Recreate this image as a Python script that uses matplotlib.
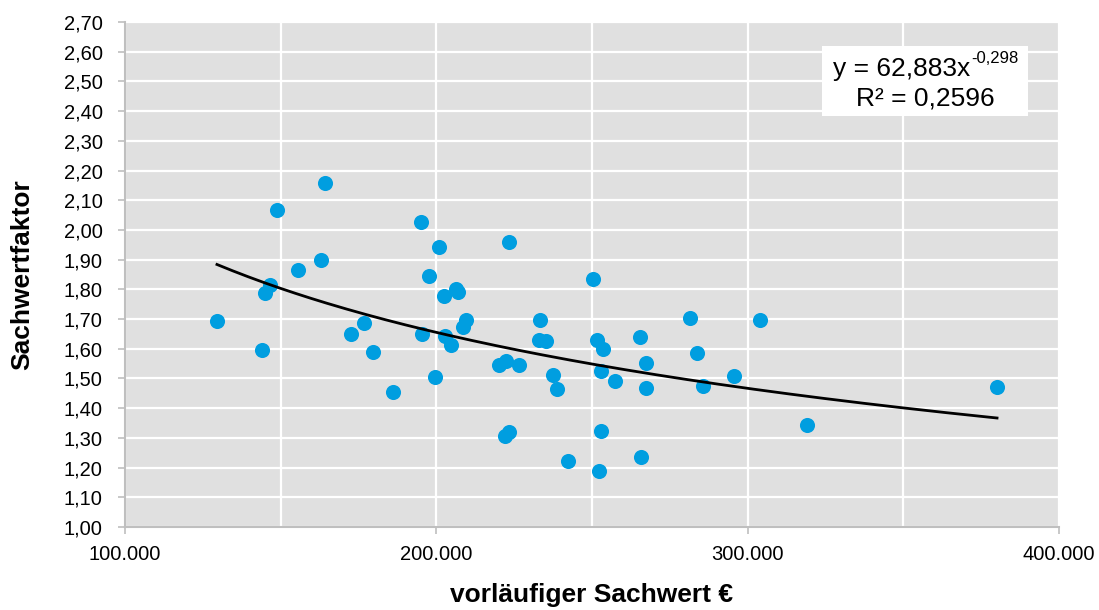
import numpy as np
import matplotlib.pyplot as plt
from matplotlib.ticker import MultipleLocator, FuncFormatter
from matplotlib.patches import Rectangle

plt.rcParams['font.family'] = ['Liberation Sans', 'DejaVu Sans']

# vorläufiger Sachwert (EUR) und zugehöriger Sachwertfaktor
sachwert = [129550, 144000, 145000, 146600, 148800, 155600, 163000, 164200,
            172600, 176800, 179700, 186100, 195100, 195400, 197600, 199600,
            200900, 202500, 202800, 204700, 206300, 207000, 208600, 209500,
            220100, 222400, 222000, 223300, 223300, 226600, 233300, 233000,
            235200, 237500, 238800, 242300, 250300, 251600, 252900, 253500,
            252300, 252900, 257400, 265400, 265700, 267300, 267300, 281400,
            283700, 285600, 295600, 303900, 319000, 380100]
faktor = [1.694, 1.596, 1.788, 1.815, 2.067, 1.865, 1.900, 2.158,
          1.650, 1.687, 1.590, 1.455, 2.027, 1.650, 1.845, 1.505,
          1.943, 1.778, 1.643, 1.613, 1.800, 1.790, 1.673, 1.697,
          1.545, 1.559, 1.306, 1.320, 1.960, 1.545, 1.697, 1.630,
          1.626, 1.512, 1.465, 1.222, 1.835, 1.630, 1.525, 1.600,
          1.189, 1.323, 1.490, 1.640, 1.236, 1.552, 1.468, 1.704,
          1.586, 1.475, 1.508, 1.697, 1.343, 1.470]

# Potenz-Trendlinie
coef_a = 62.883
coef_b = -0.298

fig = plt.figure(figsize=(10.99, 6.10), dpi=100)
ax = fig.add_axes([0.1137, 0.1361, 0.8499, 0.8278])
ax.set_facecolor('#e0e0e0')

ax.scatter(sachwert, faktor, s=118, color='#009ee0', zorder=3, linewidths=0)

xs = np.linspace(min(sachwert), max(sachwert), 200)
ax.plot(xs, coef_a * xs ** coef_b, color='black', lw=2, zorder=4)

ax.set_xlim(100000, 400000)
ax.set_ylim(1.0, 2.7)
ax.xaxis.set_major_locator(MultipleLocator(100000))
ax.xaxis.set_minor_locator(MultipleLocator(50000))
ax.yaxis.set_major_locator(MultipleLocator(0.1))
ax.xaxis.set_major_formatter(FuncFormatter(lambda v, p: f'{v:,.0f}'.replace(',', '.')))
ax.yaxis.set_major_formatter(FuncFormatter(lambda v, p: f'{v:.2f}'.replace('.', ',')))

ax.grid(True, which='both', axis='x', color='white', lw=1.6, zorder=1)
ax.grid(True, which='major', axis='y', color='white', lw=1.6, zorder=1)
ax.set_axisbelow(True)

for side in ['top', 'right']:
    ax.spines[side].set_visible(False)
for side in ['left', 'bottom']:
    ax.spines[side].set_color('#bfbfbf')
    ax.spines[side].set_linewidth(1.5)

ax.tick_params(axis='both', which='major', colors='#bfbfbf', labelcolor='black',
               labelsize=14.5, length=5, width=1.2)
ax.tick_params(axis='x', which='minor', length=0)
ax.tick_params(axis='x', pad=8)
ax.tick_params(axis='y', pad=11)

ax.set_xlabel('vorläufiger Sachwert €', fontsize=19, fontweight='bold', labelpad=14)
ax.set_ylabel('Sachwertfaktor', fontsize=19, fontweight='bold', labelpad=21)

# Formel der Trendlinie
ax.add_patch(Rectangle((0.746, 0.814), 0.221, 0.138, transform=ax.transAxes,
                       facecolor='white', edgecolor='none', zorder=5))
ax.text(0.905, 0.907, 'y = 62,883x', transform=ax.transAxes,
        ha='right', va='center', fontsize=19, zorder=6)
ax.text(0.906, 0.927, '-0,298', transform=ax.transAxes,
        ha='left', va='center', fontsize=12, zorder=6)
ax.text(0.8565, 0.848, 'R² = 0,2596', transform=ax.transAxes,
        ha='center', va='center', fontsize=19, zorder=6)

fig.savefig('out.png', dpi=100)
